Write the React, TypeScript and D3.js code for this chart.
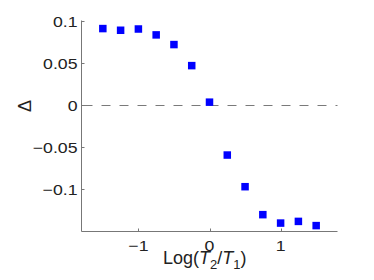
import React from "react";
import * as d3 from "d3";

const xValues = [-1.5, -1.25, -1, -0.75, -0.5, -0.25, 0, 0.25, 0.5, 0.75, 1, 1.25, 1.5];
const deltaValues = [0.091, 0.089, 0.0905, 0.0835, 0.072, 0.047, 0.0036, -0.0592, -0.0968, -0.13, -0.14, -0.138, -0.143];
const xTicks = [-1, 0, 1];
const yTicks = [-0.1, -0.05, 0, 0.05, 0.1];
const yTickLabels = ["\u22120.1", "\u22120.05", "0", "0.05", "0.1"];
const xTickLabels = ["\u22121", "0", "1"];

const W = 374;
const H = 280;
const left = 81.5;
const right = 337.5;
const top = 20.5;
const bottom = 231.5;

export default function App() {
  const x = d3.scaleLinear().domain([-1.8, 1.8]).range([left, right]);
  const y = d3.scaleLinear().domain([-0.15, 0.1]).range([bottom, y0()]);
  function y0() {
    return 21;
  }
  const font = "'Liberation Sans', Arial, Helvetica, sans-serif";
  const ms = 7.5;
  return (
    <svg width={W} height={H} style={{ position: "absolute", left: 0, top: 0 }} fontFamily={font}>
      <rect x={0} y={0} width={W} height={H} fill="#fff" />
      {/* zero dashed line */}
      <line x1={x(-1.8)} x2={x(1.8)} y1={Math.round(y(0)) + 0.5} y2={Math.round(y(0)) + 0.5} stroke="#7a7a7a" strokeWidth={1} strokeDasharray="9,9" strokeDashoffset={-2} />
      {/* axes */}
      <line x1={left} x2={left} y1={top} y2={bottom} stroke="#777" strokeWidth={1} />
      <line x1={left} x2={right} y1={bottom} y2={bottom} stroke="#777" strokeWidth={1} />
      {yTicks.map((t, i) => (
        <g key={"yt" + i}>
          <line x1={left} x2={left + 3} y1={Math.round(y(t)) + 0.5} y2={Math.round(y(t)) + 0.5} stroke="#777" />
          <text transform={`translate(${left - 4},${y(t) + 5.5}) scale(1.18,1)`} textAnchor="end" fontSize={15} fill="#222">
            {yTickLabels[i]}
          </text>
        </g>
      ))}
      {xTicks.map((t, i) => (
        <g key={"xt" + i}>
          <line x1={Math.round(x(t)) + 0.5} x2={Math.round(x(t)) + 0.5} y1={bottom} y2={bottom - 3} stroke="#777" />
          <text transform={`translate(${x(t)},${bottom + 19.5}) scale(1.18,1)`} textAnchor="middle" fontSize={15} fill="#222">
            {xTickLabels[i]}
          </text>
        </g>
      ))}
      {/* points */}
      {xValues.map((v, i) => (
        <rect key={"p" + i} x={x(v) - ms / 2} y={y(deltaValues[i]) - ms / 2} width={ms} height={ms} fill="#0000ff" />
      ))}
      {/* y label */}
      <text transform={`translate(31,106) rotate(-90)`} textAnchor="middle" fontSize={18} fill="#222">
        Δ
      </text>
      {/* x label */}
      <text x={163} y={263.5} fontSize={18} fill="#222">
        Log(
        <tspan fontStyle="italic">T</tspan>
        <tspan fontSize={13} dy={5}>2</tspan>
        <tspan dy={-5}>/</tspan>
        <tspan fontStyle="italic">T</tspan>
        <tspan fontSize={13} dy={5}>1</tspan>
        <tspan dy={-5}>)</tspan>
      </text>
    </svg>
  );
}
